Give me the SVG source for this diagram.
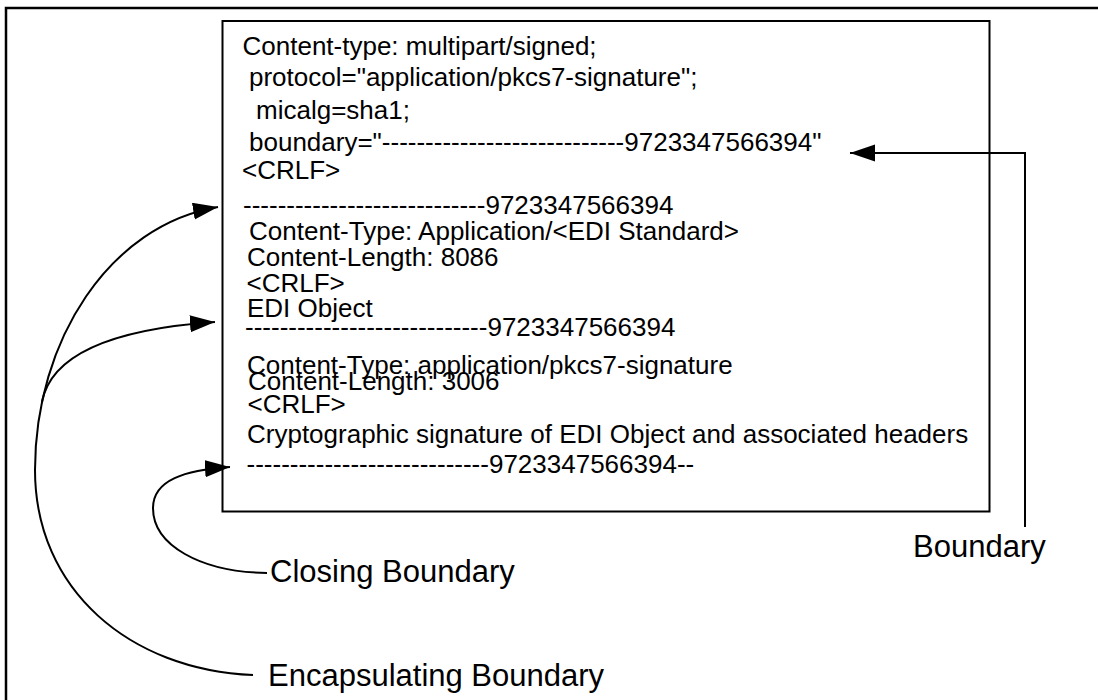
<svg xmlns="http://www.w3.org/2000/svg" width="1098" height="700" viewBox="0 0 1098 700">
<style>
.t{font-family:"Liberation Sans",Arial,sans-serif;font-size:26px;fill:#000}
.lbl{font-family:"Liberation Sans",Arial,sans-serif;font-size:31px;fill:#000}
.box{fill:none;stroke:#000;stroke-width:2}
.con{fill:none;stroke:#000;stroke-width:2}
</style>
<defs>
<marker id="ah" markerUnits="userSpaceOnUse" markerWidth="26" markerHeight="18" refX="25" refY="8.5" orient="auto">
<path d="M0,0 L25,8.5 L0,17 z" fill="#000"/>
</marker>
</defs>
<rect width="1098" height="700" fill="#fff"/>
<g id="frame">
<rect x="6" y="8" width="1200" height="800" fill="none" stroke="#000" stroke-width="2.5"/>
</g>
<g id="message">
<rect class="box" x="222.5" y="21" width="767" height="490.5"/>
<text class="t" x="242.5" y="55">Content-type: multipart/signed;</text>
<text class="t" x="249" y="86">protocol="application/pkcs7-signature";</text>
<text class="t" x="256" y="119">micalg=sha1;</text>
<text class="t" x="249" y="150.5">boundary="----------------------------9723347566394"</text>
<text class="t" x="242" y="179">&lt;CRLF&gt;</text>
<text class="t" x="243" y="214">----------------------------9723347566394</text>
<text class="t" x="249" y="240">Content-Type: Application/&lt;EDI Standard&gt;</text>
<text class="t" x="247" y="266">Content-Length: 8086</text>
<text class="t" x="246.5" y="291.5">&lt;CRLF&gt;</text>
<text class="t" x="247" y="316.5">EDI Object</text>
<text class="t" x="245" y="336">----------------------------9723347566394</text>
<text class="t" x="247" y="374">Content-Type: application/pkcs7-signature</text>
<text class="t" x="248" y="389.5">Content-Length: 3006</text>
<text class="t" x="247.5" y="413">&lt;CRLF&gt;</text>
<text class="t" x="247" y="442.5">Cryptographic signature of EDI Object and associated headers</text>
<text class="t" x="246.5" y="472.5">----------------------------9723347566394--</text>
</g>
<g id="label-boundary"><text class="lbl" x="913" y="557">Boundary</text></g>
<g id="label-closing"><text class="lbl" x="270" y="582">Closing Boundary</text></g>
<g id="label-encapsulating"><text class="lbl" x="268" y="686">Encapsulating Boundary</text></g>
<g id="connectors">
<path class="con" d="M1025,527 L1025,153 L850,153" marker-end="url(#ah)"/>
<path class="con" d="M267,573 C200,572 153,545 153,508 C153,480 185,470 230,467" marker-end="url(#ah)"/>
<path class="con" d="M253,675 C130,670 35,590 35,470 C35,340 110,225 218,207" marker-end="url(#ah)"/>
<path class="con" d="M42,402 C50,360 100,330 215,322" marker-end="url(#ah)"/>
</g>
</svg>
